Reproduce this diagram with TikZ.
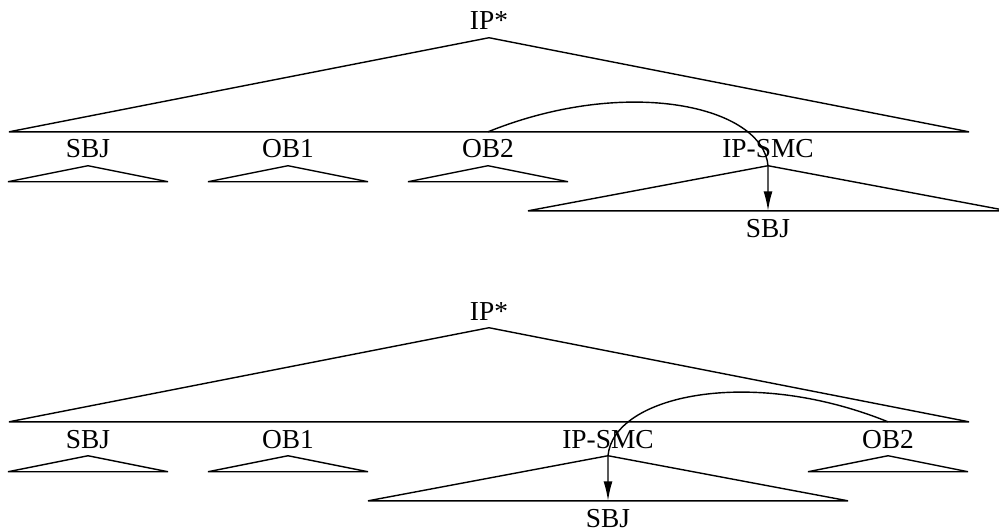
\documentclass[tikz,border=0pt]{standalone}
\usepackage{fontspec}
\setmainfont{Liberation Serif}
\usetikzlibrary{calc,arrows.meta}

\begin{document}
\begin{tikzpicture}[x=0.02cm,y=0.02cm,line width=0.8pt,
    lab/.style={inner sep=4pt,anchor=base,text height=10.5pt,text depth=0pt,
        font=\fontsize{15.6}{18}\selectfont},
    move/.style={-{Latex[length=11pt,width=5pt]}}]
    \pgfmathsetmacro{\halfwide}{480}
    \pgfmathsetmacro{\halfleaf}{80}
    \pgfmathsetmacro{\halfsmc}{240}
    \pgfmathsetmacro{\leafdrop}{16}
    \useasboundingbox (0,0) rectangle (999,531);
    \clip (0,0) rectangle (999,531);
    % U: OB2 stays before IP-SMC, L: OB2 comes last
    \foreach \tr/\ytop/\obx/\smcx/\dout/\din in {U/501/488/768/22/95, L/211/888/608/158/85} {
        \pgfmathsetmacro{\ykid}{\ytop-128}
        \pgfmathsetmacro{\ysub}{\ytop-207}
        % Define nodes
        \node[lab] (ip\tr) at (489,\ytop) {IP*};
        \node[lab] (sbj\tr) at (88,\ykid) {SBJ};
        \node[lab] (oba\tr) at (288,\ykid) {OB1};
        \node[lab] (obb\tr) at (\obx,\ykid) {OB2};
        \node[lab] (smc\tr) at (\smcx,\ykid) {IP-SMC};
        \node[lab] (sub\tr) at (\smcx,\ysub) {SBJ};
        % Draw the big triangle under IP*
        \draw ($(sbj\tr.north -| ip\tr.south)+(-\halfwide,0)$) -- (ip\tr.south)
            -- ($(sbj\tr.north -| ip\tr.south)+(\halfwide,0)$) -- cycle;
        % Draw the leaves
        \foreach \n in {sbj\tr,oba\tr,obb\tr} {
            \draw ($(\n.south)+(-\halfleaf,-\leafdrop)$) -- (\n.south)
                -- ($(\n.south)+(\halfleaf,-\leafdrop)$) -- cycle;
        }
        % Draw the small clause
        \draw ($(sub\tr.north -| smc\tr.south)+(-\halfsmc,0)$) -- (smc\tr.south)
            -- ($(sub\tr.north -| smc\tr.south)+(\halfsmc,0)$) -- cycle;
        \draw[move] (obb\tr.north) .. controls +(\dout:150) and +(\din:60) .. (smc\tr.south)
            -- (sub\tr.north);
    }
\end{tikzpicture}
\end{document}
